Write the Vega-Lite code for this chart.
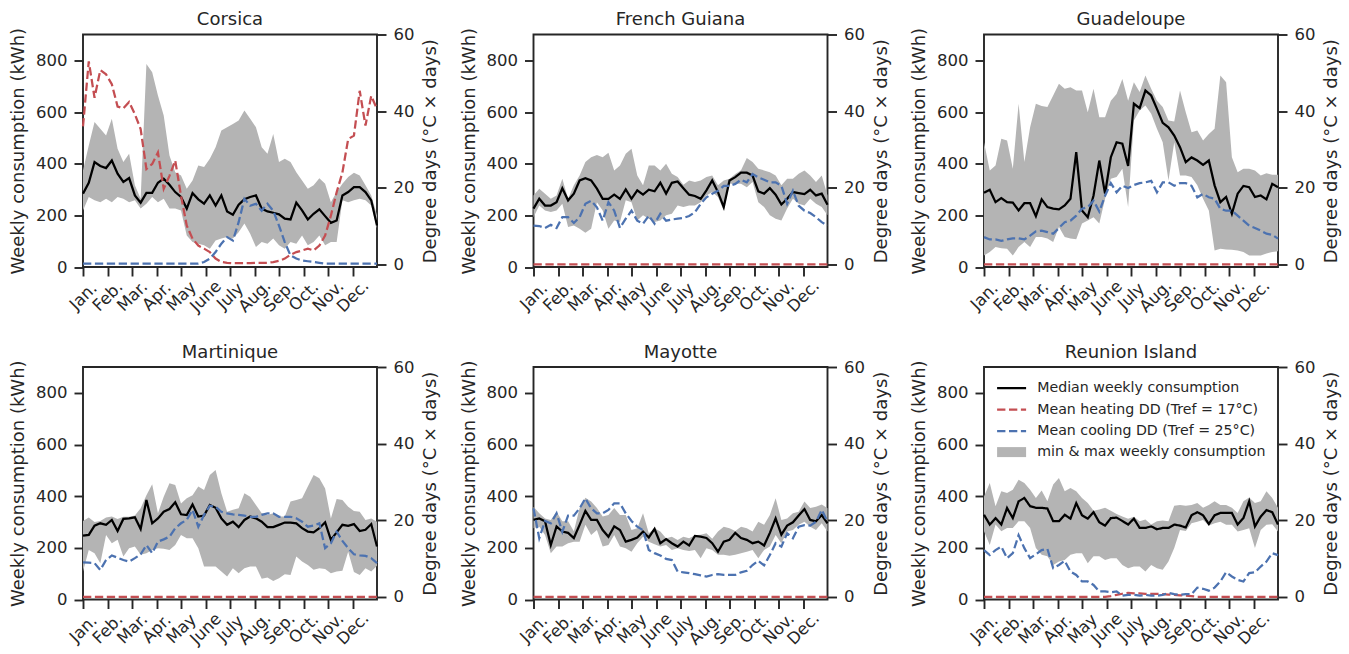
{
"$schema": "https://vega.github.io/schema/vega-lite/v6.json",
"padding": {"left": 8, "top": 9.5, "right": 5, "bottom": 2},
"config": {
  "font": "DejaVu Sans",
  "view": {"stroke": "#262626", "strokeWidth": 1.9},
  "axis": {"labelFont": "DejaVu Sans", "titleFont": "DejaVu Sans", "labelFontSize": 16.5, "titleFontSize": 18, "titleFontWeight": "normal", "labelColor": "#262626", "titleColor": "#262626", "tickColor": "#262626", "tickWidth": 1.9, "tickSize": 9, "labelPadding": 7, "titlePadding": 8, "domain": false, "grid": false, "labelFlush": false, "labelOverlap": false},
  "title": {"font": "DejaVu Sans", "fontSize": 18, "fontWeight": "normal", "color": "#262626", "anchor": "middle", "offset": -2.5}
},
"data": {"values": [
{"r":"Corsica","w":1,"m":284,"lo":219,"hi":374,"h":36,"c":0.2},
{"r":"Corsica","w":2,"m":326,"lo":271,"hi":470,"h":53,"c":0.2},
{"r":"Corsica","w":3,"m":406,"lo":258,"hi":561,"h":43.5,"c":0.2},
{"r":"Corsica","w":4,"m":391,"lo":251,"hi":535,"h":50.7,"c":0.2},
{"r":"Corsica","w":5,"m":383,"lo":264,"hi":509,"h":49.6,"c":0.2},
{"r":"Corsica","w":6,"m":412,"lo":251,"hi":574,"h":47,"c":0.2},
{"r":"Corsica","w":7,"m":361,"lo":271,"hi":458,"h":41.2,"c":0.2},
{"r":"Corsica","w":8,"m":329,"lo":264,"hi":406,"h":40.7,"c":0.2},
{"r":"Corsica","w":9,"m":344,"lo":251,"hi":438,"h":42.4,"c":0.2},
{"r":"Corsica","w":10,"m":277,"lo":258,"hi":316,"h":39.2,"c":0.2},
{"r":"Corsica","w":11,"m":249,"lo":226,"hi":264,"h":35.3,"c":0.2},
{"r":"Corsica","w":12,"m":287,"lo":245,"hi":786,"h":24.9,"c":0.2},
{"r":"Corsica","w":13,"m":287,"lo":271,"hi":754,"h":26.2,"c":0.2},
{"r":"Corsica","w":14,"m":326,"lo":251,"hi":664,"h":29.2,"c":0.2},
{"r":"Corsica","w":15,"m":342,"lo":264,"hi":586,"h":19.7,"c":0.2},
{"r":"Corsica","w":16,"m":318,"lo":226,"hi":432,"h":23.1,"c":0.2},
{"r":"Corsica","w":17,"m":290,"lo":226,"hi":367,"h":27.1,"c":0.2},
{"r":"Corsica","w":18,"m":271,"lo":219,"hi":354,"h":17.9,"c":0.2},
{"r":"Corsica","w":19,"m":226,"lo":122,"hi":303,"h":10.1,"c":0.2},
{"r":"Corsica","w":20,"m":286,"lo":97,"hi":335,"h":6.7,"c":0.2},
{"r":"Corsica","w":21,"m":262,"lo":90,"hi":393,"h":4.9,"c":0.2},
{"r":"Corsica","w":22,"m":245,"lo":84,"hi":387,"h":4.1,"c":0.6},
{"r":"Corsica","w":23,"m":277,"lo":71,"hi":419,"h":3.2,"c":1.5},
{"r":"Corsica","w":24,"m":238,"lo":103,"hi":464,"h":1.5,"c":3.2},
{"r":"Corsica","w":25,"m":277,"lo":110,"hi":528,"h":0.6,"c":5.4},
{"r":"Corsica","w":26,"m":215,"lo":116,"hi":541,"h":0.4,"c":7.1},
{"r":"Corsica","w":27,"m":202,"lo":110,"hi":554,"h":0.3,"c":6.2},
{"r":"Corsica","w":28,"m":241,"lo":135,"hi":567,"h":0.3,"c":11},
{"r":"Corsica","w":29,"m":262,"lo":168,"hi":606,"h":0.3,"c":17.1},
{"r":"Corsica","w":30,"m":271,"lo":129,"hi":574,"h":0.3,"c":15.3},
{"r":"Corsica","w":31,"m":277,"lo":77,"hi":541,"h":0.4,"c":15.8},
{"r":"Corsica","w":32,"m":226,"lo":97,"hi":464,"h":0.4,"c":14},
{"r":"Corsica","w":33,"m":215,"lo":90,"hi":438,"h":0.4,"c":15.8},
{"r":"Corsica","w":34,"m":210,"lo":110,"hi":515,"h":0.6,"c":14},
{"r":"Corsica","w":35,"m":204,"lo":84,"hi":406,"h":0.9,"c":10.1},
{"r":"Corsica","w":36,"m":187,"lo":71,"hi":419,"h":1.5,"c":5.8},
{"r":"Corsica","w":37,"m":184,"lo":97,"hi":406,"h":2.5,"c":2.3},
{"r":"Corsica","w":38,"m":249,"lo":90,"hi":367,"h":3.2,"c":1.5},
{"r":"Corsica","w":39,"m":219,"lo":122,"hi":335,"h":3.6,"c":1},
{"r":"Corsica","w":40,"m":184,"lo":84,"hi":303,"h":4.1,"c":0.8},
{"r":"Corsica","w":41,"m":206,"lo":97,"hi":316,"h":3.6,"c":0.6},
{"r":"Corsica","w":42,"m":223,"lo":122,"hi":344,"h":4.9,"c":0.4},
{"r":"Corsica","w":43,"m":197,"lo":84,"hi":322,"h":7.5,"c":0.2},
{"r":"Corsica","w":44,"m":171,"lo":97,"hi":251,"h":12.7,"c":0.2},
{"r":"Corsica","w":45,"m":180,"lo":97,"hi":290,"h":18.8,"c":0.2},
{"r":"Corsica","w":46,"m":277,"lo":258,"hi":322,"h":24,"c":0.2},
{"r":"Corsica","w":47,"m":290,"lo":251,"hi":348,"h":32.7,"c":0.2},
{"r":"Corsica","w":48,"m":309,"lo":258,"hi":365,"h":33.6,"c":0.2},
{"r":"Corsica","w":49,"m":309,"lo":264,"hi":354,"h":45.3,"c":0.2},
{"r":"Corsica","w":50,"m":290,"lo":258,"hi":316,"h":36.2,"c":0.2},
{"r":"Corsica","w":51,"m":258,"lo":238,"hi":277,"h":44,"c":0.2},
{"r":"Corsica","w":52,"m":161,"lo":150,"hi":200,"h":40.5,"c":0.2},
{"r":"French Guiana","w":1,"m":226,"lo":193,"hi":277,"h":0,"c":10.1},
{"r":"French Guiana","w":2,"m":264,"lo":238,"hi":303,"h":0,"c":10},
{"r":"French Guiana","w":3,"m":238,"lo":219,"hi":284,"h":0,"c":9.5},
{"r":"French Guiana","w":4,"m":238,"lo":213,"hi":264,"h":0,"c":10.3},
{"r":"French Guiana","w":5,"m":251,"lo":219,"hi":277,"h":0,"c":9.5},
{"r":"French Guiana","w":6,"m":305,"lo":245,"hi":342,"h":0,"c":12.3},
{"r":"French Guiana","w":7,"m":258,"lo":155,"hi":264,"h":0,"c":12.3},
{"r":"French Guiana","w":8,"m":284,"lo":161,"hi":316,"h":0,"c":10.8},
{"r":"French Guiana","w":9,"m":335,"lo":148,"hi":354,"h":0,"c":12.3},
{"r":"French Guiana","w":10,"m":344,"lo":133,"hi":406,"h":0,"c":15.8},
{"r":"French Guiana","w":11,"m":335,"lo":148,"hi":425,"h":0,"c":16.6},
{"r":"French Guiana","w":12,"m":303,"lo":251,"hi":434,"h":0,"c":14.9},
{"r":"French Guiana","w":13,"m":264,"lo":219,"hi":425,"h":0,"c":11.4},
{"r":"French Guiana","w":14,"m":264,"lo":148,"hi":442,"h":0,"c":16.2},
{"r":"French Guiana","w":15,"m":280,"lo":180,"hi":374,"h":0,"c":14},
{"r":"French Guiana","w":16,"m":264,"lo":174,"hi":393,"h":0,"c":9.5},
{"r":"French Guiana","w":17,"m":300,"lo":258,"hi":438,"h":0,"c":11.9},
{"r":"French Guiana","w":18,"m":264,"lo":251,"hi":458,"h":0,"c":14},
{"r":"French Guiana","w":19,"m":297,"lo":180,"hi":354,"h":0,"c":11.4},
{"r":"French Guiana","w":20,"m":280,"lo":200,"hi":316,"h":0,"c":10.6},
{"r":"French Guiana","w":21,"m":299,"lo":187,"hi":393,"h":0,"c":12.7},
{"r":"French Guiana","w":22,"m":293,"lo":174,"hi":393,"h":0,"c":10.6},
{"r":"French Guiana","w":23,"m":326,"lo":180,"hi":374,"h":0,"c":13.2},
{"r":"French Guiana","w":24,"m":284,"lo":200,"hi":400,"h":0,"c":11.4},
{"r":"French Guiana","w":25,"m":326,"lo":206,"hi":361,"h":0,"c":11.7},
{"r":"French Guiana","w":26,"m":331,"lo":238,"hi":348,"h":0,"c":11.9},
{"r":"French Guiana","w":27,"m":305,"lo":232,"hi":318,"h":0,"c":12.1},
{"r":"French Guiana","w":28,"m":280,"lo":238,"hi":335,"h":0,"c":12.6},
{"r":"French Guiana","w":29,"m":275,"lo":238,"hi":329,"h":0,"c":13.6},
{"r":"French Guiana","w":30,"m":264,"lo":251,"hi":335,"h":0,"c":15.8},
{"r":"French Guiana","w":31,"m":297,"lo":277,"hi":348,"h":0,"c":17.5},
{"r":"French Guiana","w":32,"m":335,"lo":290,"hi":354,"h":0,"c":18.4},
{"r":"French Guiana","w":33,"m":290,"lo":271,"hi":316,"h":0,"c":19.2},
{"r":"French Guiana","w":34,"m":232,"lo":219,"hi":335,"h":0,"c":20.5},
{"r":"French Guiana","w":35,"m":335,"lo":322,"hi":342,"h":0,"c":20.5},
{"r":"French Guiana","w":36,"m":348,"lo":322,"hi":360,"h":0,"c":21},
{"r":"French Guiana","w":37,"m":365,"lo":322,"hi":375,"h":0,"c":22.1},
{"r":"French Guiana","w":38,"m":365,"lo":309,"hi":422,"h":0,"c":21.4},
{"r":"French Guiana","w":39,"m":354,"lo":329,"hi":406,"h":0,"c":23.6},
{"r":"French Guiana","w":40,"m":293,"lo":251,"hi":380,"h":0,"c":22.7},
{"r":"French Guiana","w":41,"m":284,"lo":232,"hi":374,"h":0,"c":22.1},
{"r":"French Guiana","w":42,"m":305,"lo":200,"hi":367,"h":0,"c":21.4},
{"r":"French Guiana","w":43,"m":280,"lo":187,"hi":354,"h":0,"c":21.4},
{"r":"French Guiana","w":44,"m":242,"lo":180,"hi":316,"h":0,"c":20.5},
{"r":"French Guiana","w":45,"m":264,"lo":226,"hi":342,"h":0,"c":15.8},
{"r":"French Guiana","w":46,"m":290,"lo":264,"hi":342,"h":0,"c":19.2},
{"r":"French Guiana","w":47,"m":286,"lo":245,"hi":361,"h":0,"c":15.3},
{"r":"French Guiana","w":48,"m":282,"lo":238,"hi":374,"h":0,"c":14},
{"r":"French Guiana","w":49,"m":299,"lo":264,"hi":354,"h":0,"c":13.4},
{"r":"French Guiana","w":50,"m":277,"lo":245,"hi":329,"h":0,"c":12.3},
{"r":"French Guiana","w":51,"m":284,"lo":232,"hi":354,"h":0,"c":11},
{"r":"French Guiana","w":52,"m":241,"lo":200,"hi":277,"h":0,"c":10.1},
{"r":"Guadeloupe","w":1,"m":287,"lo":45,"hi":483,"h":0,"c":7.1},
{"r":"Guadeloupe","w":2,"m":299,"lo":58,"hi":374,"h":0,"c":6.5},
{"r":"Guadeloupe","w":3,"m":251,"lo":77,"hi":393,"h":0,"c":6.5},
{"r":"Guadeloupe","w":4,"m":267,"lo":73,"hi":496,"h":0,"c":6.1},
{"r":"Guadeloupe","w":5,"m":251,"lo":71,"hi":490,"h":0,"c":6.5},
{"r":"Guadeloupe","w":6,"m":249,"lo":45,"hi":380,"h":0,"c":6.8},
{"r":"Guadeloupe","w":7,"m":219,"lo":77,"hi":632,"h":0,"c":6.8},
{"r":"Guadeloupe","w":8,"m":247,"lo":97,"hi":406,"h":0,"c":6.5},
{"r":"Guadeloupe","w":9,"m":247,"lo":77,"hi":541,"h":0,"c":7.5},
{"r":"Guadeloupe","w":10,"m":197,"lo":116,"hi":632,"h":0,"c":8.6},
{"r":"Guadeloupe","w":11,"m":262,"lo":116,"hi":623,"h":0,"c":8.8},
{"r":"Guadeloupe","w":12,"m":232,"lo":110,"hi":619,"h":0,"c":8.4},
{"r":"Guadeloupe","w":13,"m":226,"lo":97,"hi":664,"h":0,"c":8},
{"r":"Guadeloupe","w":14,"m":223,"lo":155,"hi":709,"h":0,"c":9.5},
{"r":"Guadeloupe","w":15,"m":238,"lo":116,"hi":690,"h":0,"c":11},
{"r":"Guadeloupe","w":16,"m":264,"lo":110,"hi":696,"h":0,"c":11.4},
{"r":"Guadeloupe","w":17,"m":445,"lo":107,"hi":683,"h":0,"c":12.7},
{"r":"Guadeloupe","w":18,"m":219,"lo":168,"hi":683,"h":0,"c":14.5},
{"r":"Guadeloupe","w":19,"m":193,"lo":180,"hi":599,"h":0,"c":14.9},
{"r":"Guadeloupe","w":20,"m":277,"lo":193,"hi":690,"h":0,"c":16.6},
{"r":"Guadeloupe","w":21,"m":412,"lo":168,"hi":580,"h":0,"c":13.8},
{"r":"Guadeloupe","w":22,"m":284,"lo":264,"hi":580,"h":0,"c":17.9},
{"r":"Guadeloupe","w":23,"m":425,"lo":342,"hi":644,"h":0,"c":21.2},
{"r":"Guadeloupe","w":24,"m":483,"lo":348,"hi":670,"h":0,"c":18.8},
{"r":"Guadeloupe","w":25,"m":477,"lo":380,"hi":728,"h":0,"c":20.5},
{"r":"Guadeloupe","w":26,"m":391,"lo":232,"hi":644,"h":0,"c":19.9},
{"r":"Guadeloupe","w":27,"m":632,"lo":567,"hi":715,"h":0,"c":20.7},
{"r":"Guadeloupe","w":28,"m":615,"lo":606,"hi":677,"h":0,"c":21.2},
{"r":"Guadeloupe","w":29,"m":683,"lo":625,"hi":741,"h":0,"c":21.4},
{"r":"Guadeloupe","w":30,"m":664,"lo":593,"hi":690,"h":0,"c":21.8},
{"r":"Guadeloupe","w":31,"m":612,"lo":535,"hi":644,"h":0,"c":18.8},
{"r":"Guadeloupe","w":32,"m":558,"lo":483,"hi":619,"h":0,"c":21.4},
{"r":"Guadeloupe","w":33,"m":541,"lo":335,"hi":567,"h":0,"c":21.4},
{"r":"Guadeloupe","w":34,"m":509,"lo":483,"hi":563,"h":0,"c":20.5},
{"r":"Guadeloupe","w":35,"m":464,"lo":354,"hi":683,"h":0,"c":21.2},
{"r":"Guadeloupe","w":36,"m":406,"lo":354,"hi":599,"h":0,"c":21.2},
{"r":"Guadeloupe","w":37,"m":424,"lo":348,"hi":522,"h":0,"c":20.5},
{"r":"Guadeloupe","w":38,"m":412,"lo":316,"hi":528,"h":0,"c":17.5},
{"r":"Guadeloupe","w":39,"m":395,"lo":264,"hi":490,"h":0,"c":18.4},
{"r":"Guadeloupe","w":40,"m":412,"lo":219,"hi":515,"h":0,"c":17.5},
{"r":"Guadeloupe","w":41,"m":316,"lo":64,"hi":535,"h":0,"c":17.1},
{"r":"Guadeloupe","w":42,"m":251,"lo":71,"hi":741,"h":0,"c":14.5},
{"r":"Guadeloupe","w":43,"m":271,"lo":68,"hi":715,"h":0,"c":14},
{"r":"Guadeloupe","w":44,"m":206,"lo":67,"hi":425,"h":0,"c":14},
{"r":"Guadeloupe","w":45,"m":284,"lo":64,"hi":367,"h":0,"c":12.7},
{"r":"Guadeloupe","w":46,"m":314,"lo":58,"hi":380,"h":0,"c":11.4},
{"r":"Guadeloupe","w":47,"m":309,"lo":45,"hi":380,"h":0,"c":10.1},
{"r":"Guadeloupe","w":48,"m":271,"lo":45,"hi":374,"h":0,"c":9.5},
{"r":"Guadeloupe","w":49,"m":277,"lo":45,"hi":354,"h":0,"c":8.8},
{"r":"Guadeloupe","w":50,"m":262,"lo":52,"hi":363,"h":0,"c":8},
{"r":"Guadeloupe","w":51,"m":322,"lo":58,"hi":357,"h":0,"c":7.7},
{"r":"Guadeloupe","w":52,"m":309,"lo":61,"hi":357,"h":0,"c":6.7},
{"r":"Martinique","w":1,"m":247,"lo":108,"hi":304,"h":0,"c":9},
{"r":"Martinique","w":2,"m":250,"lo":192,"hi":317,"h":0,"c":8.9},
{"r":"Martinique","w":3,"m":286,"lo":179,"hi":300,"h":0,"c":8.8},
{"r":"Martinique","w":4,"m":295,"lo":140,"hi":304,"h":0,"c":7},
{"r":"Martinique","w":5,"m":289,"lo":250,"hi":317,"h":0,"c":9.6},
{"r":"Martinique","w":6,"m":308,"lo":218,"hi":321,"h":0,"c":10.8},
{"r":"Martinique","w":7,"m":265,"lo":231,"hi":312,"h":0,"c":10.2},
{"r":"Martinique","w":8,"m":312,"lo":166,"hi":320,"h":0,"c":9.6},
{"r":"Martinique","w":9,"m":314,"lo":198,"hi":320,"h":0,"c":9.2},
{"r":"Martinique","w":10,"m":318,"lo":205,"hi":325,"h":0,"c":10.1},
{"r":"Martinique","w":11,"m":273,"lo":173,"hi":353,"h":0,"c":11.1},
{"r":"Martinique","w":12,"m":385,"lo":179,"hi":404,"h":0,"c":13.5},
{"r":"Martinique","w":13,"m":295,"lo":192,"hi":446,"h":0,"c":11.4},
{"r":"Martinique","w":14,"m":314,"lo":198,"hi":334,"h":0,"c":14.4},
{"r":"Martinique","w":15,"m":340,"lo":196,"hi":398,"h":0,"c":15},
{"r":"Martinique","w":16,"m":350,"lo":192,"hi":450,"h":0,"c":15.7},
{"r":"Martinique","w":17,"m":376,"lo":211,"hi":443,"h":0,"c":17.9},
{"r":"Martinique","w":18,"m":330,"lo":250,"hi":372,"h":0,"c":19.2},
{"r":"Martinique","w":19,"m":327,"lo":237,"hi":392,"h":0,"c":20.1},
{"r":"Martinique","w":20,"m":368,"lo":237,"hi":404,"h":0,"c":22.7},
{"r":"Martinique","w":21,"m":321,"lo":198,"hi":437,"h":0,"c":18.3},
{"r":"Martinique","w":22,"m":325,"lo":128,"hi":424,"h":0,"c":21.4},
{"r":"Martinique","w":23,"m":366,"lo":128,"hi":482,"h":0,"c":23.8},
{"r":"Martinique","w":24,"m":355,"lo":128,"hi":501,"h":0,"c":23.5},
{"r":"Martinique","w":25,"m":314,"lo":108,"hi":411,"h":0,"c":22.2},
{"r":"Martinique","w":26,"m":289,"lo":89,"hi":340,"h":0,"c":21.8},
{"r":"Martinique","w":27,"m":301,"lo":121,"hi":347,"h":0,"c":21.5},
{"r":"Martinique","w":28,"m":280,"lo":102,"hi":353,"h":0,"c":21.4},
{"r":"Martinique","w":29,"m":308,"lo":121,"hi":411,"h":0,"c":21.2},
{"r":"Martinique","w":30,"m":321,"lo":128,"hi":398,"h":0,"c":20.9},
{"r":"Martinique","w":31,"m":314,"lo":128,"hi":366,"h":0,"c":20.9},
{"r":"Martinique","w":32,"m":301,"lo":80,"hi":334,"h":0,"c":21.4},
{"r":"Martinique","w":33,"m":280,"lo":85,"hi":327,"h":0,"c":21.8},
{"r":"Martinique","w":34,"m":280,"lo":72,"hi":334,"h":0,"c":21.8},
{"r":"Martinique","w":35,"m":289,"lo":82,"hi":321,"h":0,"c":20.9},
{"r":"Martinique","w":36,"m":298,"lo":98,"hi":321,"h":0,"c":20.9},
{"r":"Martinique","w":37,"m":298,"lo":95,"hi":379,"h":0,"c":20.9},
{"r":"Martinique","w":38,"m":295,"lo":166,"hi":385,"h":0,"c":20.5},
{"r":"Martinique","w":39,"m":276,"lo":147,"hi":392,"h":0,"c":19.6},
{"r":"Martinique","w":40,"m":263,"lo":134,"hi":437,"h":0,"c":18.3},
{"r":"Martinique","w":41,"m":260,"lo":115,"hi":482,"h":0,"c":18.6},
{"r":"Martinique","w":42,"m":276,"lo":121,"hi":469,"h":0,"c":19.2},
{"r":"Martinique","w":43,"m":299,"lo":118,"hi":430,"h":0,"c":12.7},
{"r":"Martinique","w":44,"m":231,"lo":102,"hi":314,"h":0,"c":14},
{"r":"Martinique","w":45,"m":260,"lo":108,"hi":389,"h":0,"c":17},
{"r":"Martinique","w":46,"m":289,"lo":111,"hi":385,"h":0,"c":14.6},
{"r":"Martinique","w":47,"m":285,"lo":185,"hi":359,"h":0,"c":12.7},
{"r":"Martinique","w":48,"m":292,"lo":106,"hi":343,"h":0,"c":11.1},
{"r":"Martinique","w":49,"m":265,"lo":95,"hi":340,"h":0,"c":10.8},
{"r":"Martinique","w":50,"m":270,"lo":121,"hi":308,"h":0,"c":10.7},
{"r":"Martinique","w":51,"m":292,"lo":108,"hi":314,"h":0,"c":10.1},
{"r":"Martinique","w":52,"m":205,"lo":131,"hi":301,"h":0,"c":8.8},
{"r":"Mayotte","w":1,"m":308,"lo":276,"hi":359,"h":0,"c":23.1},
{"r":"Mayotte","w":2,"m":314,"lo":282,"hi":334,"h":0,"c":15.3},
{"r":"Mayotte","w":3,"m":303,"lo":250,"hi":314,"h":0,"c":19.8},
{"r":"Mayotte","w":4,"m":211,"lo":179,"hi":308,"h":0,"c":19.2},
{"r":"Mayotte","w":5,"m":283,"lo":205,"hi":340,"h":0,"c":21.8},
{"r":"Mayotte","w":6,"m":263,"lo":205,"hi":303,"h":0,"c":17},
{"r":"Mayotte","w":7,"m":258,"lo":218,"hi":303,"h":0,"c":21.2},
{"r":"Mayotte","w":8,"m":238,"lo":224,"hi":264,"h":0,"c":21.2},
{"r":"Mayotte","w":9,"m":289,"lo":224,"hi":354,"h":0,"c":23.1},
{"r":"Mayotte","w":10,"m":343,"lo":289,"hi":394,"h":0,"c":25.7},
{"r":"Mayotte","w":11,"m":308,"lo":250,"hi":379,"h":0,"c":23.1},
{"r":"Mayotte","w":12,"m":308,"lo":269,"hi":354,"h":0,"c":21.8},
{"r":"Mayotte","w":13,"m":269,"lo":205,"hi":321,"h":0,"c":21.8},
{"r":"Mayotte","w":14,"m":243,"lo":211,"hi":327,"h":0,"c":22.7},
{"r":"Mayotte","w":15,"m":283,"lo":250,"hi":354,"h":0,"c":24.4},
{"r":"Mayotte","w":16,"m":269,"lo":205,"hi":327,"h":0,"c":24.4},
{"r":"Mayotte","w":17,"m":224,"lo":198,"hi":327,"h":0,"c":21.8},
{"r":"Mayotte","w":18,"m":231,"lo":185,"hi":269,"h":0,"c":19.8},
{"r":"Mayotte","w":19,"m":240,"lo":218,"hi":276,"h":0,"c":18.3},
{"r":"Mayotte","w":20,"m":263,"lo":243,"hi":334,"h":0,"c":17.4},
{"r":"Mayotte","w":21,"m":240,"lo":224,"hi":256,"h":0,"c":12.2},
{"r":"Mayotte","w":22,"m":273,"lo":214,"hi":276,"h":0,"c":11.4},
{"r":"Mayotte","w":23,"m":218,"lo":205,"hi":263,"h":0,"c":10.8},
{"r":"Mayotte","w":24,"m":234,"lo":211,"hi":237,"h":0,"c":9.9},
{"r":"Mayotte","w":25,"m":218,"lo":192,"hi":243,"h":0,"c":9.6},
{"r":"Mayotte","w":26,"m":205,"lo":198,"hi":230,"h":0,"c":6.6},
{"r":"Mayotte","w":27,"m":224,"lo":192,"hi":243,"h":0,"c":6.4},
{"r":"Mayotte","w":28,"m":209,"lo":188,"hi":237,"h":0,"c":6.2},
{"r":"Mayotte","w":29,"m":246,"lo":192,"hi":249,"h":0,"c":5.9},
{"r":"Mayotte","w":30,"m":243,"lo":160,"hi":251,"h":0,"c":5.6},
{"r":"Mayotte","w":31,"m":238,"lo":198,"hi":256,"h":0,"c":5.3},
{"r":"Mayotte","w":32,"m":218,"lo":192,"hi":235,"h":0,"c":5.7},
{"r":"Mayotte","w":33,"m":185,"lo":173,"hi":263,"h":0,"c":5.9},
{"r":"Mayotte","w":34,"m":224,"lo":173,"hi":282,"h":0,"c":5.7},
{"r":"Mayotte","w":35,"m":231,"lo":169,"hi":276,"h":0,"c":5.7},
{"r":"Mayotte","w":36,"m":258,"lo":173,"hi":265,"h":0,"c":5.7},
{"r":"Mayotte","w":37,"m":238,"lo":179,"hi":282,"h":0,"c":6.4},
{"r":"Mayotte","w":38,"m":231,"lo":185,"hi":276,"h":0,"c":6.8},
{"r":"Mayotte","w":39,"m":218,"lo":192,"hi":263,"h":0,"c":8.3},
{"r":"Mayotte","w":40,"m":224,"lo":160,"hi":301,"h":0,"c":9.4},
{"r":"Mayotte","w":41,"m":209,"lo":192,"hi":289,"h":0,"c":8.2},
{"r":"Mayotte","w":42,"m":258,"lo":205,"hi":327,"h":0,"c":10.9},
{"r":"Mayotte","w":43,"m":314,"lo":250,"hi":392,"h":0,"c":14},
{"r":"Mayotte","w":44,"m":251,"lo":218,"hi":308,"h":0,"c":13.1},
{"r":"Mayotte","w":45,"m":286,"lo":263,"hi":314,"h":0,"c":16.6},
{"r":"Mayotte","w":46,"m":299,"lo":269,"hi":334,"h":0,"c":15.3},
{"r":"Mayotte","w":47,"m":325,"lo":289,"hi":340,"h":0,"c":18.3},
{"r":"Mayotte","w":48,"m":350,"lo":301,"hi":379,"h":0,"c":18.7},
{"r":"Mayotte","w":49,"m":308,"lo":282,"hi":354,"h":0,"c":18.6},
{"r":"Mayotte","w":50,"m":303,"lo":269,"hi":359,"h":0,"c":19.6},
{"r":"Mayotte","w":51,"m":327,"lo":295,"hi":368,"h":0,"c":22.7},
{"r":"Mayotte","w":52,"m":295,"lo":263,"hi":353,"h":0,"c":19.6},
{"r":"Reunion Island","w":1,"m":328,"lo":264,"hi":399,"h":0,"c":12.2},
{"r":"Reunion Island","w":2,"m":290,"lo":211,"hi":451,"h":0,"c":10.9},
{"r":"Reunion Island","w":3,"m":315,"lo":290,"hi":361,"h":0,"c":12.2},
{"r":"Reunion Island","w":4,"m":290,"lo":264,"hi":419,"h":0,"c":13.1},
{"r":"Reunion Island","w":5,"m":354,"lo":277,"hi":412,"h":0,"c":10.1},
{"r":"Reunion Island","w":6,"m":315,"lo":277,"hi":425,"h":0,"c":11.4},
{"r":"Reunion Island","w":7,"m":380,"lo":303,"hi":464,"h":0,"c":16.1},
{"r":"Reunion Island","w":8,"m":393,"lo":303,"hi":451,"h":0,"c":12.7},
{"r":"Reunion Island","w":9,"m":361,"lo":277,"hi":425,"h":0,"c":10.1},
{"r":"Reunion Island","w":10,"m":355,"lo":199,"hi":393,"h":0,"c":11.1},
{"r":"Reunion Island","w":11,"m":355,"lo":173,"hi":422,"h":0,"c":12.2},
{"r":"Reunion Island","w":12,"m":352,"lo":167,"hi":380,"h":0,"c":12.5},
{"r":"Reunion Island","w":13,"m":303,"lo":134,"hi":445,"h":0,"c":7.5},
{"r":"Reunion Island","w":14,"m":303,"lo":147,"hi":470,"h":0,"c":8.3},
{"r":"Reunion Island","w":15,"m":328,"lo":153,"hi":419,"h":0,"c":9.4},
{"r":"Reunion Island","w":16,"m":313,"lo":173,"hi":432,"h":0,"c":6.6},
{"r":"Reunion Island","w":17,"m":373,"lo":179,"hi":419,"h":0,"c":5.7},
{"r":"Reunion Island","w":18,"m":326,"lo":179,"hi":393,"h":0,"c":4},
{"r":"Reunion Island","w":19,"m":313,"lo":140,"hi":374,"h":0,"c":4},
{"r":"Reunion Island","w":20,"m":338,"lo":167,"hi":344,"h":0,"c":3.1},
{"r":"Reunion Island","w":21,"m":299,"lo":167,"hi":348,"h":0,"c":1.4},
{"r":"Reunion Island","w":22,"m":286,"lo":153,"hi":355,"h":0,"c":1.4},
{"r":"Reunion Island","w":23,"m":315,"lo":160,"hi":344,"h":0.2,"c":1.2},
{"r":"Reunion Island","w":24,"m":317,"lo":160,"hi":331,"h":0.5,"c":1.4},
{"r":"Reunion Island","w":25,"m":304,"lo":134,"hi":321,"h":0.8,"c":0.3},
{"r":"Reunion Island","w":26,"m":290,"lo":121,"hi":313,"h":1,"c":0.5},
{"r":"Reunion Island","w":27,"m":313,"lo":128,"hi":320,"h":0.9,"c":0.5},
{"r":"Reunion Island","w":28,"m":277,"lo":128,"hi":303,"h":0.9,"c":0.3},
{"r":"Reunion Island","w":29,"m":277,"lo":108,"hi":310,"h":0.8,"c":0.5},
{"r":"Reunion Island","w":30,"m":283,"lo":134,"hi":290,"h":0.8,"c":0.3},
{"r":"Reunion Island","w":31,"m":272,"lo":121,"hi":303,"h":0.8,"c":0.3},
{"r":"Reunion Island","w":32,"m":277,"lo":115,"hi":306,"h":0.7,"c":0.5},
{"r":"Reunion Island","w":33,"m":277,"lo":147,"hi":303,"h":0.6,"c":1},
{"r":"Reunion Island","w":34,"m":290,"lo":199,"hi":363,"h":0.5,"c":0.7},
{"r":"Reunion Island","w":35,"m":286,"lo":269,"hi":366,"h":0.4,"c":0.5},
{"r":"Reunion Island","w":36,"m":279,"lo":265,"hi":363,"h":0.3,"c":0.7},
{"r":"Reunion Island","w":37,"m":326,"lo":295,"hi":366,"h":0.2,"c":0.7},
{"r":"Reunion Island","w":38,"m":338,"lo":301,"hi":374,"h":0,"c":2.4},
{"r":"Reunion Island","w":39,"m":326,"lo":308,"hi":355,"h":0,"c":2.1},
{"r":"Reunion Island","w":40,"m":292,"lo":286,"hi":366,"h":0,"c":1.6},
{"r":"Reunion Island","w":41,"m":326,"lo":295,"hi":380,"h":0,"c":2.4},
{"r":"Reunion Island","w":42,"m":335,"lo":301,"hi":366,"h":0,"c":4},
{"r":"Reunion Island","w":43,"m":335,"lo":289,"hi":366,"h":0,"c":6.4},
{"r":"Reunion Island","w":44,"m":335,"lo":289,"hi":355,"h":0,"c":5.3},
{"r":"Reunion Island","w":45,"m":290,"lo":263,"hi":335,"h":0,"c":4.4},
{"r":"Reunion Island","w":46,"m":315,"lo":269,"hi":380,"h":0,"c":4},
{"r":"Reunion Island","w":47,"m":380,"lo":276,"hi":395,"h":0,"c":6.2},
{"r":"Reunion Island","w":48,"m":283,"lo":199,"hi":374,"h":0,"c":6.4},
{"r":"Reunion Island","w":49,"m":321,"lo":269,"hi":380,"h":0,"c":7.9},
{"r":"Reunion Island","w":50,"m":346,"lo":289,"hi":419,"h":0,"c":9.2},
{"r":"Reunion Island","w":51,"m":338,"lo":291,"hi":393,"h":0,"c":11.4},
{"r":"Reunion Island","w":52,"m":290,"lo":263,"hi":355,"h":0,"c":10.9}
]},
"columns": 3,
"spacing": {"row": 99.5, "column": 156.5},
"bounds": "flush",
"resolve": {"scale": {"color": "independent", "fill": "independent", "strokeDash": "independent"}, "legend": {"color": "independent", "fill": "independent", "strokeDash": "independent"}},
"concat": [
{"title": "Corsica", "width": 294, "height": 232.5,
 "transform": [{"filter": "datum.r === 'Corsica'"}],
 "layer": [
  {"layer": [
   {"mark": {"type": "area", "color": "#b4b4b4", "opacity": 1},
    "encoding": {
     "x": {"field": "w", "type": "quantitative", "scale": {"domain": [1, 52], "nice": false, "zero": false}, "axis": {"title": null, "values": [1,5.25,9.5,13.75,18,22.25,26.5,30.75,35,39.25,43.5,47.75], "tickCount": 24, "labelExpr": "['Jan.','Feb.','Mar.','Apr.','May','June','July','Aug.','Sep.','Oct.','Nov.','Dec.'][round((datum.value-1)/4.25)]", "labelAngle": -45, "labelAlign": "center", "labelBaseline": "middle", "labelPadding": 20, "labelOverlap": false, "labelBound": false, "labelFlush": false}},
     "y": {"field": "lo", "type": "quantitative", "scale": {"domain": [0, 900], "nice": false, "zero": false}, "axis": {"title": "Weekly consumption (kWh)", "values": [0,200,400,600,800], "orient": "left"}},
     "y2": {"field": "hi"}}},
   {"mark": {"type": "line", "color": "#000000", "strokeWidth": 2.25},
    "encoding": {
     "x": {"field": "w", "type": "quantitative", "scale": {"domain": [1, 52], "nice": false, "zero": false}},
     "y": {"field": "m", "type": "quantitative", "scale": {"domain": [0, 900], "nice": false, "zero": false}}}}
  ]},
  {"layer": [
   {"mark": {"type": "line", "color": "#c44e52", "strokeWidth": 2.25, "strokeDash": [8.3, 3.6]},
    "encoding": {
     "x": {"field": "w", "type": "quantitative", "scale": {"domain": [1, 52], "nice": false, "zero": false}},
     "y": {"field": "h", "type": "quantitative", "scale": {"domain": [-0.7, 60], "nice": false, "zero": false}, "axis": {"title": "Degree days (°C × days)", "values": [0,20,40,60], "orient": "right", "titleAngle": 270, "titleBaseline": "top"}}}},
   {"mark": {"type": "line", "color": "#4c72b0", "strokeWidth": 2.25, "strokeDash": [8.3, 3.6]},
    "encoding": {
     "x": {"field": "w", "type": "quantitative", "scale": {"domain": [1, 52], "nice": false, "zero": false}},
     "y": {"field": "c", "type": "quantitative", "scale": {"domain": [-0.7, 60], "nice": false, "zero": false}}}}
  ]}
 ],
 "resolve": {"scale": {"y": "independent"}}},
{"title": "French Guiana", "width": 294, "height": 232.5,
 "transform": [{"filter": "datum.r === 'French Guiana'"}],
 "layer": [
  {"layer": [
   {"mark": {"type": "area", "color": "#b4b4b4", "opacity": 1},
    "encoding": {
     "x": {"field": "w", "type": "quantitative", "scale": {"domain": [1, 52], "nice": false, "zero": false}, "axis": {"title": null, "values": [1,5.25,9.5,13.75,18,22.25,26.5,30.75,35,39.25,43.5,47.75], "tickCount": 24, "labelExpr": "['Jan.','Feb.','Mar.','Apr.','May','June','July','Aug.','Sep.','Oct.','Nov.','Dec.'][round((datum.value-1)/4.25)]", "labelAngle": -45, "labelAlign": "center", "labelBaseline": "middle", "labelPadding": 20, "labelOverlap": false, "labelBound": false, "labelFlush": false}},
     "y": {"field": "lo", "type": "quantitative", "scale": {"domain": [0, 900], "nice": false, "zero": false}, "axis": {"title": "Weekly consumption (kWh)", "values": [0,200,400,600,800], "orient": "left"}},
     "y2": {"field": "hi"}}},
   {"mark": {"type": "line", "color": "#000000", "strokeWidth": 2.25},
    "encoding": {
     "x": {"field": "w", "type": "quantitative", "scale": {"domain": [1, 52], "nice": false, "zero": false}},
     "y": {"field": "m", "type": "quantitative", "scale": {"domain": [0, 900], "nice": false, "zero": false}}}}
  ]},
  {"layer": [
   {"mark": {"type": "line", "color": "#c44e52", "strokeWidth": 2.25, "strokeDash": [8.3, 3.6]},
    "encoding": {
     "x": {"field": "w", "type": "quantitative", "scale": {"domain": [1, 52], "nice": false, "zero": false}},
     "y": {"field": "h", "type": "quantitative", "scale": {"domain": [-0.7, 60], "nice": false, "zero": false}, "axis": {"title": "Degree days (°C × days)", "values": [0,20,40,60], "orient": "right", "titleAngle": 270, "titleBaseline": "top"}}}},
   {"mark": {"type": "line", "color": "#4c72b0", "strokeWidth": 2.25, "strokeDash": [8.3, 3.6]},
    "encoding": {
     "x": {"field": "w", "type": "quantitative", "scale": {"domain": [1, 52], "nice": false, "zero": false}},
     "y": {"field": "c", "type": "quantitative", "scale": {"domain": [-0.7, 60], "nice": false, "zero": false}}}}
  ]}
 ],
 "resolve": {"scale": {"y": "independent"}}},
{"title": "Guadeloupe", "width": 294, "height": 232.5,
 "transform": [{"filter": "datum.r === 'Guadeloupe'"}],
 "layer": [
  {"layer": [
   {"mark": {"type": "area", "color": "#b4b4b4", "opacity": 1},
    "encoding": {
     "x": {"field": "w", "type": "quantitative", "scale": {"domain": [1, 52], "nice": false, "zero": false}, "axis": {"title": null, "values": [1,5.25,9.5,13.75,18,22.25,26.5,30.75,35,39.25,43.5,47.75], "tickCount": 24, "labelExpr": "['Jan.','Feb.','Mar.','Apr.','May','June','July','Aug.','Sep.','Oct.','Nov.','Dec.'][round((datum.value-1)/4.25)]", "labelAngle": -45, "labelAlign": "center", "labelBaseline": "middle", "labelPadding": 20, "labelOverlap": false, "labelBound": false, "labelFlush": false}},
     "y": {"field": "lo", "type": "quantitative", "scale": {"domain": [0, 900], "nice": false, "zero": false}, "axis": {"title": "Weekly consumption (kWh)", "values": [0,200,400,600,800], "orient": "left"}},
     "y2": {"field": "hi"}}},
   {"mark": {"type": "line", "color": "#000000", "strokeWidth": 2.25},
    "encoding": {
     "x": {"field": "w", "type": "quantitative", "scale": {"domain": [1, 52], "nice": false, "zero": false}},
     "y": {"field": "m", "type": "quantitative", "scale": {"domain": [0, 900], "nice": false, "zero": false}}}}
  ]},
  {"layer": [
   {"mark": {"type": "line", "color": "#c44e52", "strokeWidth": 2.25, "strokeDash": [8.3, 3.6]},
    "encoding": {
     "x": {"field": "w", "type": "quantitative", "scale": {"domain": [1, 52], "nice": false, "zero": false}},
     "y": {"field": "h", "type": "quantitative", "scale": {"domain": [-0.7, 60], "nice": false, "zero": false}, "axis": {"title": "Degree days (°C × days)", "values": [0,20,40,60], "orient": "right", "titleAngle": 270, "titleBaseline": "top"}}}},
   {"mark": {"type": "line", "color": "#4c72b0", "strokeWidth": 2.25, "strokeDash": [8.3, 3.6]},
    "encoding": {
     "x": {"field": "w", "type": "quantitative", "scale": {"domain": [1, 52], "nice": false, "zero": false}},
     "y": {"field": "c", "type": "quantitative", "scale": {"domain": [-0.7, 60], "nice": false, "zero": false}}}}
  ]}
 ],
 "resolve": {"scale": {"y": "independent"}}},
{"title": "Martinique", "width": 294, "height": 232.5,
 "transform": [{"filter": "datum.r === 'Martinique'"}],
 "layer": [
  {"layer": [
   {"mark": {"type": "area", "color": "#b4b4b4", "opacity": 1},
    "encoding": {
     "x": {"field": "w", "type": "quantitative", "scale": {"domain": [1, 52], "nice": false, "zero": false}, "axis": {"title": null, "values": [1,5.25,9.5,13.75,18,22.25,26.5,30.75,35,39.25,43.5,47.75], "tickCount": 24, "labelExpr": "['Jan.','Feb.','Mar.','Apr.','May','June','July','Aug.','Sep.','Oct.','Nov.','Dec.'][round((datum.value-1)/4.25)]", "labelAngle": -45, "labelAlign": "center", "labelBaseline": "middle", "labelPadding": 20, "labelOverlap": false, "labelBound": false, "labelFlush": false}},
     "y": {"field": "lo", "type": "quantitative", "scale": {"domain": [0, 900], "nice": false, "zero": false}, "axis": {"title": "Weekly consumption (kWh)", "values": [0,200,400,600,800], "orient": "left"}},
     "y2": {"field": "hi"}}},
   {"mark": {"type": "line", "color": "#000000", "strokeWidth": 2.25},
    "encoding": {
     "x": {"field": "w", "type": "quantitative", "scale": {"domain": [1, 52], "nice": false, "zero": false}},
     "y": {"field": "m", "type": "quantitative", "scale": {"domain": [0, 900], "nice": false, "zero": false}}}}
  ]},
  {"layer": [
   {"mark": {"type": "line", "color": "#c44e52", "strokeWidth": 2.25, "strokeDash": [8.3, 3.6]},
    "encoding": {
     "x": {"field": "w", "type": "quantitative", "scale": {"domain": [1, 52], "nice": false, "zero": false}},
     "y": {"field": "h", "type": "quantitative", "scale": {"domain": [-0.7, 60], "nice": false, "zero": false}, "axis": {"title": "Degree days (°C × days)", "values": [0,20,40,60], "orient": "right", "titleAngle": 270, "titleBaseline": "top"}}}},
   {"mark": {"type": "line", "color": "#4c72b0", "strokeWidth": 2.25, "strokeDash": [8.3, 3.6]},
    "encoding": {
     "x": {"field": "w", "type": "quantitative", "scale": {"domain": [1, 52], "nice": false, "zero": false}},
     "y": {"field": "c", "type": "quantitative", "scale": {"domain": [-0.7, 60], "nice": false, "zero": false}}}}
  ]}
 ],
 "resolve": {"scale": {"y": "independent"}}},
{"title": "Mayotte", "width": 294, "height": 232.5,
 "transform": [{"filter": "datum.r === 'Mayotte'"}],
 "layer": [
  {"layer": [
   {"mark": {"type": "area", "color": "#b4b4b4", "opacity": 1},
    "encoding": {
     "x": {"field": "w", "type": "quantitative", "scale": {"domain": [1, 52], "nice": false, "zero": false}, "axis": {"title": null, "values": [1,5.25,9.5,13.75,18,22.25,26.5,30.75,35,39.25,43.5,47.75], "tickCount": 24, "labelExpr": "['Jan.','Feb.','Mar.','Apr.','May','June','July','Aug.','Sep.','Oct.','Nov.','Dec.'][round((datum.value-1)/4.25)]", "labelAngle": -45, "labelAlign": "center", "labelBaseline": "middle", "labelPadding": 20, "labelOverlap": false, "labelBound": false, "labelFlush": false}},
     "y": {"field": "lo", "type": "quantitative", "scale": {"domain": [0, 900], "nice": false, "zero": false}, "axis": {"title": "Weekly consumption (kWh)", "values": [0,200,400,600,800], "orient": "left"}},
     "y2": {"field": "hi"}}},
   {"mark": {"type": "line", "color": "#000000", "strokeWidth": 2.25},
    "encoding": {
     "x": {"field": "w", "type": "quantitative", "scale": {"domain": [1, 52], "nice": false, "zero": false}},
     "y": {"field": "m", "type": "quantitative", "scale": {"domain": [0, 900], "nice": false, "zero": false}}}}
  ]},
  {"layer": [
   {"mark": {"type": "line", "color": "#c44e52", "strokeWidth": 2.25, "strokeDash": [8.3, 3.6]},
    "encoding": {
     "x": {"field": "w", "type": "quantitative", "scale": {"domain": [1, 52], "nice": false, "zero": false}},
     "y": {"field": "h", "type": "quantitative", "scale": {"domain": [-0.7, 60], "nice": false, "zero": false}, "axis": {"title": "Degree days (°C × days)", "values": [0,20,40,60], "orient": "right", "titleAngle": 270, "titleBaseline": "top"}}}},
   {"mark": {"type": "line", "color": "#4c72b0", "strokeWidth": 2.25, "strokeDash": [8.3, 3.6]},
    "encoding": {
     "x": {"field": "w", "type": "quantitative", "scale": {"domain": [1, 52], "nice": false, "zero": false}},
     "y": {"field": "c", "type": "quantitative", "scale": {"domain": [-0.7, 60], "nice": false, "zero": false}}}}
  ]}
 ],
 "resolve": {"scale": {"y": "independent"}}},
{"title": "Reunion Island", "width": 294, "height": 232.5,
 "transform": [{"filter": "datum.r === 'Reunion Island'"}],
 "layer": [
  {"layer": [
   {"mark": {"type": "area", "opacity": 1},
    "encoding": {
     "x": {"field": "w", "type": "quantitative", "scale": {"domain": [1, 52], "nice": false, "zero": false}, "axis": {"title": null, "values": [1,5.25,9.5,13.75,18,22.25,26.5,30.75,35,39.25,43.5,47.75], "tickCount": 24, "labelExpr": "['Jan.','Feb.','Mar.','Apr.','May','June','July','Aug.','Sep.','Oct.','Nov.','Dec.'][round((datum.value-1)/4.25)]", "labelAngle": -45, "labelAlign": "center", "labelBaseline": "middle", "labelPadding": 20, "labelOverlap": false, "labelBound": false, "labelFlush": false}},
     "y": {"field": "lo", "type": "quantitative", "scale": {"domain": [0, 900], "nice": false, "zero": false}, "axis": {"title": "Weekly consumption (kWh)", "values": [0,200,400,600,800], "orient": "left"}},
     "y2": {"field": "hi"},
     "fill": {"datum": "min & max weekly consumption", "type": "nominal",
       "scale": {"domain": ["min & max weekly consumption"], "range": ["#b4b4b4"]},
       "legend": {"title": null, "orient": "none", "legendX": 13, "legendY": 78, "padding": 0, "labelFont": "DejaVu Sans", "labelFontSize": 14.2, "labelColor": "#262626", "labelLimit": 400, "symbolType": "M-1.75,-1.25H5.5V1.25H-1.75Z", "symbolSize": 64, "symbolStrokeWidth": 0, "symbolOpacity": 1, "labelOffset": 26, "rowPadding": 6.5}}}},
   {"mark": {"type": "line", "strokeWidth": 2.25},
    "encoding": {
     "x": {"field": "w", "type": "quantitative", "scale": {"domain": [1, 52], "nice": false, "zero": false}},
     "y": {"field": "m", "type": "quantitative", "scale": {"domain": [0, 900], "nice": false, "zero": false}},
     "color": {"datum": "Median weekly consumption", "type": "nominal",
       "scale": {"domain": ["Median weekly consumption", "Mean heating DD (Tref = 17°C)", "Mean cooling DD (Tref = 25°C)"], "range": ["#000000", "#c44e52", "#4c72b0"]},
       "legend": {"title": null, "orient": "none", "legendX": 13, "legendY": 14, "padding": 0, "labelFont": "DejaVu Sans", "labelFontSize": 14.2, "labelColor": "#262626", "labelLimit": 400, "symbolType": "M-1.75,0H5.5", "symbolSize": 64, "symbolStrokeWidth": 2.25, "labelOffset": 26, "rowPadding": 6.5}},
     "strokeDash": {"datum": "Median weekly consumption", "type": "nominal",
       "scale": {"domain": ["Median weekly consumption", "Mean heating DD (Tref = 17°C)", "Mean cooling DD (Tref = 25°C)"], "range": [[1, 0], [8.3, 3.6], [8.3, 3.6]]},
       "legend": {"title": null, "orient": "none", "legendX": 13, "legendY": 14, "padding": 0, "labelFont": "DejaVu Sans", "labelFontSize": 14.2, "labelColor": "#262626", "labelLimit": 400, "symbolType": "M-1.75,0H5.5", "symbolSize": 64, "symbolStrokeWidth": 2.25, "labelOffset": 26, "rowPadding": 6.5}}}}
  ]},
  {"layer": [
   {"mark": {"type": "line", "strokeWidth": 2.25},
    "encoding": {
     "x": {"field": "w", "type": "quantitative", "scale": {"domain": [1, 52], "nice": false, "zero": false}},
     "y": {"field": "h", "type": "quantitative", "scale": {"domain": [-0.7, 60], "nice": false, "zero": false}, "axis": {"title": "Degree days (°C × days)", "values": [0,20,40,60], "orient": "right", "titleAngle": 270, "titleBaseline": "top"}},
     "color": {"datum": "Mean heating DD (Tref = 17°C)", "type": "nominal"},
     "strokeDash": {"datum": "Mean heating DD (Tref = 17°C)", "type": "nominal"}}},
   {"mark": {"type": "line", "strokeWidth": 2.25},
    "encoding": {
     "x": {"field": "w", "type": "quantitative", "scale": {"domain": [1, 52], "nice": false, "zero": false}},
     "y": {"field": "c", "type": "quantitative", "scale": {"domain": [-0.7, 60], "nice": false, "zero": false}},
     "color": {"datum": "Mean cooling DD (Tref = 25°C)", "type": "nominal"},
     "strokeDash": {"datum": "Mean cooling DD (Tref = 25°C)", "type": "nominal"}}}
  ]}
 ],
 "resolve": {"scale": {"y": "independent"}}}
]
}
